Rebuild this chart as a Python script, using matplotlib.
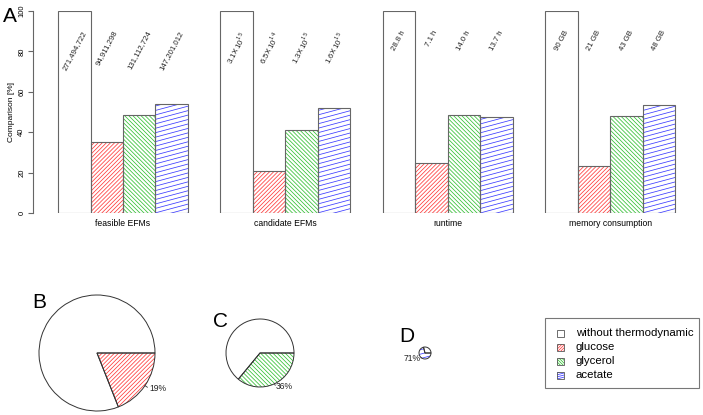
import numpy as np
import matplotlib.pyplot as plt
from matplotlib.collections import LineCollection
from matplotlib.transforms import IdentityTransform
from matplotlib.patches import Rectangle

plt.rcParams['font.family'] = ['Liberation Sans', 'DejaVu Sans']

# ---- data ----
groups = ["feasible EFMs", "candidate EFMs", "runtime", "memory consumption"]
series = ["without thermodynamic", "glucose", "glycerol", "acetate"]

# percent relative to the run without thermodynamic constraints
no_thermo = [100, 100, 100, 100]
glucose = [35.0, 20.8, 24.7, 23.3]
glycerol = [48.3, 41.0, 48.6, 47.8]
acetate = [54.2, 51.8, 47.6, 53.3]

lab_no_thermo = ["271,494,722", r"3.1$\times$10$^{15}$", "28.8 h", "90 GB"]
lab_glucose = ["94,911,298", r"6.5$\times$10$^{14}$", "7.1 h", "21 GB"]
lab_glycerol = ["131,112,724", r"1.3$\times$10$^{15}$", "14.0 h", "43 GB"]
lab_acetate = ["147,201,012", r"1.6$\times$10$^{15}$", "13.7 h", "48 GB"]

# pies: share of the hatched substrate
pie_glucose = 19
pie_glycerol = 36
pie_acetate = 71

# ---- style ----
# angle, colour, line spacing (px)
hatch_style = {
    "without thermodynamic": None,
    "glucose": (45, "#ff3b3b", 2.9),
    "glycerol": (-45, "#33c133", 2.9),
    "acetate": (15, "#3b3bff", 4.3),
}
EDGE = "#666666"


def hatch(patch, angle, color, spacing=3.0, lw=0.55):
    """draw parallel lines clipped to a patch (display coords)"""
    ext = patch.get_window_extent()
    c = np.array([(ext.x0 + ext.x1) / 2, (ext.y0 + ext.y1) / 2])
    R = np.hypot(ext.width, ext.height) / 2 + spacing
    a = np.deg2rad(angle)
    d = np.array([np.cos(a), np.sin(a)])
    n = np.array([-np.sin(a), np.cos(a)])
    segs = [[c + t * n - R * d, c + t * n + R * d] for t in np.arange(-R, R, spacing)]
    lc = LineCollection(segs, colors=color, linewidths=lw,
                        transform=IdentityTransform(), zorder=0.5)
    patch.axes.add_collection(lc, autolim=False)
    lc.set_clip_path(patch)  # after add_collection, which would reset it


W, H = 703, 415
fig = plt.figure(figsize=(W / 100, H / 100), dpi=100)

# ---- panel A: bars ----
ax = fig.add_axes([33 / W, 202 / H, (690 - 33) / W, 202 / H])
ax.set_xlim(-0.77, 19.45)
ax.set_ylim(0, 100)
for s in ["top", "right", "bottom"]:
    ax.spines[s].set_visible(False)
ax.spines["left"].set_color(EDGE)
ax.spines["left"].set_linewidth(0.8)
ax.set_xticks([])
ax.set_yticks(range(0, 101, 20))
ax.set_yticklabels([str(v) for v in range(0, 101, 20)], rotation=90, va="center")
ax.tick_params(axis="y", length=3.5, width=0.8, color=EDGE, labelsize=5.5, pad=2)

values = [no_thermo, glucose, glycerol, acetate]
labels = [lab_no_thermo, lab_glucose, lab_glycerol, lab_acetate]
x0 = np.arange(len(groups)) * 5
hatched_bars = []
for i, name in enumerate(series):
    fc = "white" if hatch_style[name] is None else "none"
    bars = ax.bar(x0 + i + 0.5, values[i], width=1, facecolor=fc,
                  edgecolor=EDGE, linewidth=0.8, zorder=1)
    if hatch_style[name] is not None:
        hatched_bars.append((bars, hatch_style[name]))
    for xc, txt in zip(x0 + i + 0.5, labels[i]):
        ax.text(xc, 90.8, txt, rotation=62, ha="center", va="top",
                fontsize=5.6, color="#222222")

for g, name in enumerate(groups):
    ax.text(x0[g] + 2, -5, name, ha="center", va="center", fontsize=6.2,
            clip_on=False)

fig.text(11.5 / W, 1 - 112 / H, "Comparison [%]", rotation=90,
         ha="center", va="center", fontsize=6)

# ---- overlay axes in pixel coords: pies, letters, legend ----
ov = fig.add_axes([0, 0, 1, 1])
pies = [(pie_glucose, "glucose", (97, 353), 58),
        (pie_glycerol, "glycerol", (260, 353), 34),
        (pie_acetate, "acetate", (425, 353), 6)]
hatched_wedges = []
for share, name, center, r in pies:
    wedges, texts = ov.pie([share, 100 - share], labels=[f"{share}%", ""],
                           labeldistance=1.1, startangle=0, counterclock=True,
                           center=center, radius=r, frame=True,
                           colors=["none", "none"],
                           wedgeprops=dict(edgecolor="#333333", linewidth=0.7),
                           textprops=dict(fontsize=6.2, color="#222222"))
    w = wedges[0]
    mid = np.deg2rad((w.theta1 + w.theta2) / 2)
    # pie() aligns labels on the absolute x sign; align relative to centre
    texts[0].set_ha("left" if np.cos(mid) > 0 else "right")
    ov.plot([center[0] + r * np.cos(mid), center[0] + 1.05 * r * np.cos(mid)],
            [center[1] + r * np.sin(mid), center[1] + 1.05 * r * np.sin(mid)],
            color="#333333", lw=0.6)
    hatched_wedges.append((w, hatch_style[name]))

ov.set_xlim(0, W)
ov.set_ylim(H, 0)
ov.axis("off")

for letter, (lx, ly) in zip("ABCD", [(3, 22), (32, 308), (213, 327), (399, 342)]):
    ov.text(lx, ly, letter, fontsize=15, ha="left", va="baseline")

# legend
ov.add_patch(Rectangle((545, 318), 154, 70, facecolor="white",
                       edgecolor="#777777", linewidth=0.8, zorder=0.2))
hatched_keys = []
for k, name in enumerate(series):
    yk = 333.3 + k * 13.9
    fc = "white" if hatch_style[name] is None else "none"
    sq = Rectangle((557, yk - 3.5), 7, 7, facecolor=fc, edgecolor="#555555",
                   linewidth=0.6, zorder=1)
    ov.add_patch(sq)
    if hatch_style[name] is not None:
        hatched_keys.append((sq, hatch_style[name]))
    ov.text(576, yk, name, fontsize=8.2, ha="left", va="center")

# hatching (after all limits are fixed)
for bars, (ang, col, sp) in hatched_bars:
    for b in bars:
        hatch(b, ang, col, spacing=sp)
for w, (ang, col, sp) in hatched_wedges:
    hatch(w, ang, col, spacing=sp)
for sq, (ang, col, sp) in hatched_keys:
    hatch(sq, ang, col, spacing=2.0)

fig.savefig("out.png", dpi=100)
